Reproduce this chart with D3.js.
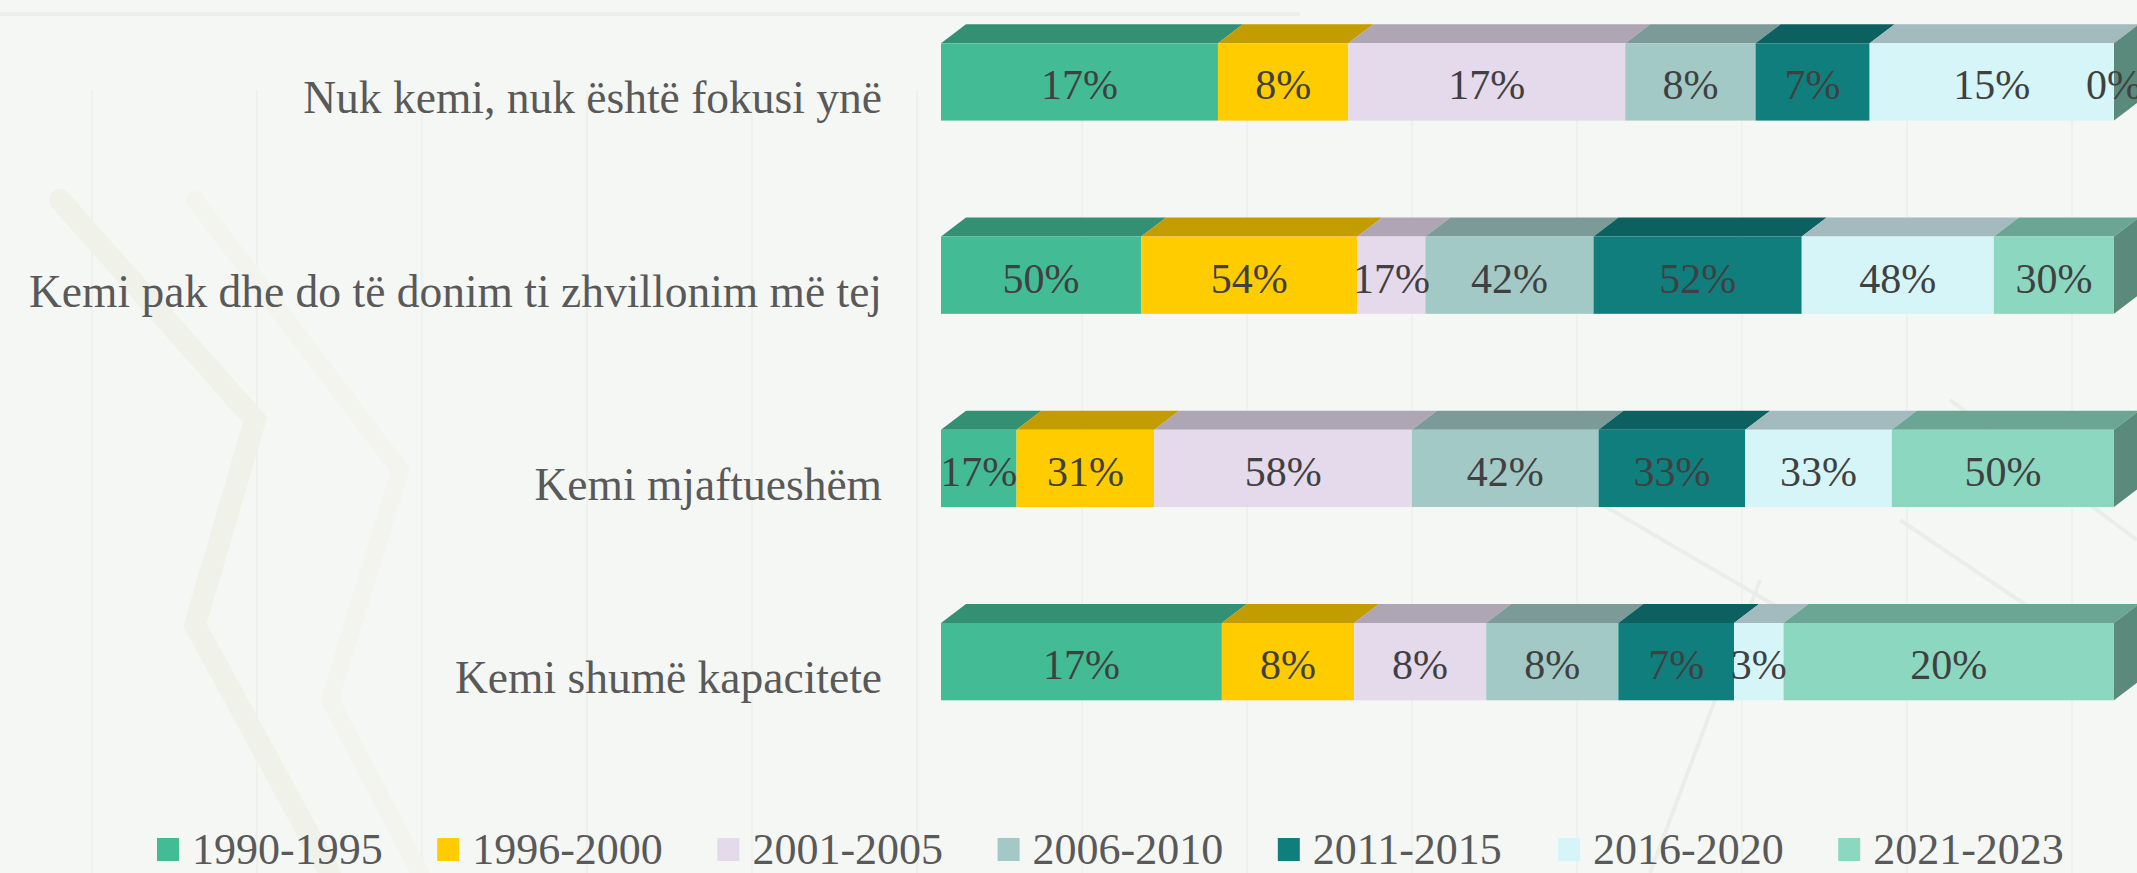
<!DOCTYPE html>
<html>
<head>
<meta charset="utf-8">
<script src="https://cdn.jsdelivr.net/npm/d3@7"></script>
<style>
  html, body { margin: 0; padding: 0; background: #f5f7f4; }
  svg { display: block; }
</style>
</head>
<body>
<div id="chart"></div>
<script>
const width = 2137;
const height = 873;

// categories (top to bottom) and series (legend order)
const categories = [
    "Nuk kemi, nuk është fokusi ynë",
    "Kemi pak dhe do të donim ti zhvillonim më tej",
    "Kemi mjaftueshëm",
    "Kemi shumë kapacitete"
];
const series = ["1990-1995", "1996-2000", "2001-2005", "2006-2010", "2011-2015", "2016-2020", "2021-2023"];
const colors = ["#43bc96", "#ffcc00", "#e5d9ec", "#a2c9c5", "#107e7d", "#d5f5f8", "#8cd7c0"];

// values per series, one per category
const v1990 = [17, 50, 17, 17];
const v1996 = [8, 54, 31, 8];
const v2001 = [17, 17, 58, 8];
const v2006 = [8, 42, 42, 8];
const v2011 = [7, 52, 33, 7];
const v2016 = [15, 48, 33, 3];
const v2021 = [0, 30, 50, 20];
const seriesValues = [v1990, v1996, v2001, v2006, v2011, v2016, v2021];

const rows = categories.map((c, i) => {
    const r = { category: c };
    series.forEach((s, j) => r[s] = seriesValues[j][i]);
    return r;
});

const svg = d3.select("#chart")
    .append("svg")
    .attr("width", width)
    .attr("height", height);

// faint background decoration
const bg = svg.append("g");
bg.append("rect").attr("width", width).attr("height", height).attr("fill", "#f5f7f4");
d3.range(92, width, 165).forEach(x => {
    bg.append("line").attr("x1", x).attr("x2", x).attr("y1", 90).attr("y2", height)
        .attr("stroke", "#eff1ee").attr("stroke-width", 2);
});
bg.append("line").attr("x1", 0).attr("x2", 1300).attr("y1", 14).attr("y2", 14)
    .attr("stroke", "#eeefed").attr("stroke-width", 4);
bg.append("path").attr("d", "M60,200 L255,420 L195,625 L330,873")
    .attr("fill", "none").attr("stroke", "#f0f2ea").attr("stroke-width", 22).attr("stroke-linecap", "round");
bg.append("path").attr("d", "M195,200 L400,470 L330,700 L420,873")
    .attr("fill", "none").attr("stroke", "#f2f4ed").attr("stroke-width", 18).attr("stroke-linecap", "round");
bg.append("path").attr("d", "M1560,480 L1800,620 M1900,520 L2137,680 M1650,873 L1760,580 M1950,400 L2137,540")
    .attr("fill", "none").attr("stroke", "#ebedea").attr("stroke-width", 4);

// scales
const x = d3.scaleLinear().domain([0, 1]).range([941, 2114]);
const y = d3.scaleBand().domain(categories).range([43.3, 700.3]).paddingInner(0.6).paddingOuter(0);
const color = d3.scaleOrdinal().domain(series).range(colors);

const stacked = d3.stack().keys(series).offset(d3.stackOffsetExpand)(rows);

const dx = 25, dy = 19;
const h = y.bandwidth();

const plot = svg.append("g");

stacked.forEach((layer, li) => {
    const g = plot.append("g");
    layer.forEach(d => {
        const x0 = x(d[0]), x1 = x(d[1]), yt = y(d.data.category);
        const c = d3.color(color(layer.key));
        // top face
        g.append("path")
            .attr("d", `M${x0},${yt} L${x0 + dx},${yt - dy} L${x1 + dx},${yt - dy} L${x1},${yt} Z`)
            .attr("fill", c.darker(0.75));
        // front face
        g.append("rect")
            .attr("x", x0).attr("y", yt)
            .attr("width", x1 - x0).attr("height", h)
            .attr("fill", c);
        // right side face on the last series
        if (li === stacked.length - 1) {
            g.append("path")
                .attr("d", `M${x1},${yt} L${x1 + dx},${yt - dy} L${x1 + dx},${yt + h - dy} L${x1},${yt + h} Z`)
                .attr("fill", c.darker(1.25));
        }
    });
});

// value labels
stacked.forEach((layer, li) => {
    plot.selectAll(null)
        .data(layer)
        .enter()
        .append("text")
        .attr("x", d => (x(d[0]) + x(d[1])) / 2)
        .attr("y", d => y(d.data.category) + 56)
        .attr("text-anchor", "middle")
        .attr("font-family", "'Liberation Serif', 'Times New Roman', serif")
        .attr("font-size", 42)
        .attr("fill", "#404040")
        .text(d => d.data[layer.key] + "%");
});

// category labels
svg.append("g").selectAll("text")
    .data(categories)
    .enter()
    .append("text")
    .attr("x", 882)
    .attr("y", d => y(d) + 70)
    .attr("text-anchor", "end")
    .attr("font-family", "'Liberation Serif', 'Times New Roman', serif")
    .attr("font-size", 45.5)
    .attr("fill", "#595959")
    .text(d => d);

// legend
const lx = d3.scaleBand().domain(series).range([157, 157 + 7 * 280.2]);
const legend = svg.append("g").selectAll("g")
    .data(series)
    .enter()
    .append("g")
    .attr("transform", d => `translate(${lx(d)},0)`);

legend.append("rect")
    .attr("x", 0).attr("y", 838)
    .attr("width", 22).attr("height", 23)
    .attr("fill", d => color(d));

legend.append("text")
    .attr("x", 35).attr("y", 864)
    .attr("font-family", "'Liberation Serif', 'Times New Roman', serif")
    .attr("font-size", 44)
    .attr("fill", "#595959")
    .text(d => d);
</script>
</body>
</html>
